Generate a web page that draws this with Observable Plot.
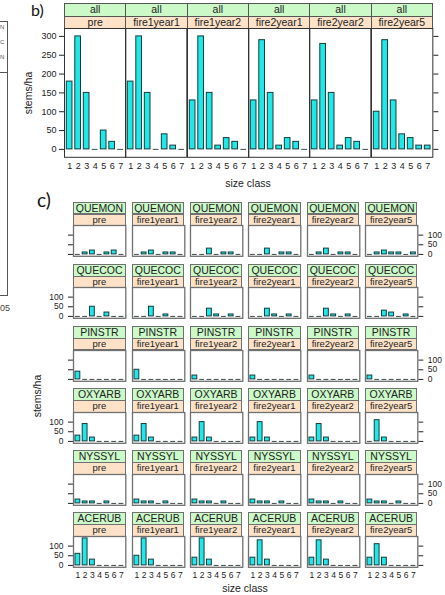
<!DOCTYPE html>
<html>
<head>
<meta charset="utf-8">
<script src="https://cdn.jsdelivr.net/npm/d3@7"></script>
<script src="https://cdn.jsdelivr.net/npm/@observablehq/plot@0.6"></script>
<style>
  html, body { margin: 0; padding: 0; background: #fff; }
  #fig { position: relative; width: 445px; height: 595px; overflow: hidden;
         font-family: "Liberation Sans", Arial, Helvetica, sans-serif; color: #222; }
  .strip { position: absolute; box-sizing: border-box; text-align: center;
           white-space: nowrap; overflow: hidden; }
  .lbl { position: absolute; white-space: nowrap; }
  .line { position: absolute; background: #555; }
</style>
</head>
<body>
<div id="fig"></div>
<script>
// Size classes on the x axis and the sampling periods (one panel column each)
const sizeClasses = [1, 2, 3, 4, 5, 6, 7];
const periods = ["pre", "fire1year1", "fire1year2", "fire2year1", "fire2year2", "fire2year5"];
const species = ["QUEMON", "QUECOC", "PINSTR", "OXYARB", "NYSSYL", "ACERUB"];

// y tick values
const ticksAll = [0, 50, 100, 150, 200, 250, 300];
const ticksSpecies = [0, 50, 100];

// b) stems/ha by size class, all species together (rows follow `periods`)
const allStems = [
  [180, 300, 150, 0, 50, 20, 0],
  [180, 300, 150, 0, 40, 10, 0],
  [130, 300, 150, 10, 30, 20, 0],
  [130, 290, 150, 10, 30, 20, 0],
  [130, 280, 150, 10, 30, 20, 0],
  [100, 290, 130, 40, 30, 10, 10]
];

// c) stems/ha by size class for each species (rows follow `periods`)
const quemon = [
  [0, 10, 20, 0, 10, 20, 0],
  [0, 10, 20, 0, 10, 10, 0],
  [0, 0, 30, 0, 10, 10, 0],
  [0, 0, 30, 0, 10, 10, 0],
  [0, 10, 30, 0, 10, 10, 0],
  [0, 10, 20, 10, 10, 0, 10]
];
const quecoc = [
  [0, 0, 50, 0, 20, 0, 0],
  [0, 0, 50, 0, 10, 0, 0],
  [0, 0, 40, 10, 0, 10, 0],
  [0, 0, 40, 10, 0, 10, 0],
  [0, 0, 40, 10, 0, 10, 0],
  [0, 0, 30, 20, 0, 10, 0]
];
const pinstr = [
  [40, 0, 0, 0, 0, 0, 0],
  [50, 0, 0, 0, 0, 0, 0],
  [20, 0, 0, 0, 0, 0, 0],
  [20, 0, 0, 0, 0, 0, 0],
  [20, 0, 0, 0, 0, 0, 0],
  [20, 0, 0, 0, 0, 0, 0]
];
const oxyarb = [
  [30, 90, 20, 0, 0, 0, 0],
  [30, 90, 20, 0, 0, 0, 0],
  [20, 100, 20, 0, 0, 0, 0],
  [20, 100, 20, 0, 0, 0, 0],
  [20, 90, 20, 0, 0, 0, 0],
  [0, 110, 20, 0, 0, 0, 0]
];
const nyssyl = [
  [20, 10, 10, 0, 10, 0, 0],
  [20, 10, 10, 0, 10, 0, 0],
  [20, 10, 10, 0, 10, 0, 0],
  [20, 10, 10, 0, 10, 0, 0],
  [20, 10, 10, 0, 10, 0, 0],
  [20, 10, 10, 0, 10, 0, 0]
];
const acerub = [
  [60, 140, 30, 0, 0, 0, 0],
  [50, 140, 30, 0, 0, 0, 0],
  [40, 140, 30, 0, 0, 0, 0],
  [40, 130, 30, 0, 0, 0, 0],
  [40, 130, 30, 0, 0, 0, 0],
  [40, 110, 40, 0, 0, 0, 0]
];
const speciesStems = [quemon, quecoc, pinstr, oxyarb, nyssyl, acerub];

// ---- styling ----
const FONT = '"Liberation Sans", Arial, Helvetica, sans-serif';
const BAR_FILL = "#1fe8e8";
const BAR_STROKE = "#173c3c";
const GREEN = "#cbf9c8";
const PEACH = "#fde2c8";

const fig = document.getElementById("fig");

function el(cls, css, text) {
  const d = document.createElement("div");
  d.className = cls;
  Object.assign(d.style, css);
  if (text != null) d.textContent = text;
  fig.appendChild(d);
  return d;
}

function strip(text, left, top, width, height, bg, border, fontSize) {
  el("strip", {
    left: left + "px", top: top + "px", width: width + "px", height: height + "px",
    background: bg, border: "1px solid " + border,
    fontSize: fontSize + "px", lineHeight: (height - 2) + "px"
  }, text);
}

function label(text, cx, cy, size, rotate) {
  el("lbl", {
    left: cx + "px", top: cy + "px", fontSize: size + "px", lineHeight: "1",
    transform: "translate(-50%, -50%)" + (rotate ? " rotate(-90deg)" : "")
  }, text);
}

// One lattice-style panel: bars for each size class, a zero dash for empty classes
function panel(o) {
  const rows = sizeClasses.map((c, i) => ({c, v: o.values[i]}));
  const mL = 34, mR = 34, mT = 2, mB = 24;
  const chart = Plot.plot({
    width: o.width + mL + mR,
    height: o.height + mT + mB,
    marginLeft: mL, marginRight: mR, marginTop: mT, marginBottom: mB,
    style: {background: "transparent", overflow: "visible", fontFamily: FONT,
            fontSize: o.tickFont + "px", color: "#222"},
    x: {type: "band", domain: sizeClasses, paddingInner: 1 / 3, paddingOuter: 0.27, round: false,
        axis: o.xLabels ? "bottom" : null, tickSize: 0, tickPadding: o.xPad, label: null},
    y: {domain: o.yDomain, ticks: o.yTicks, axis: o.yAxis, tickSize: 5, tickPadding: o.yPad,
        tickFormat: o.yLabels ? (d) => String(d) : () => "", label: null},
    marks: [
      Plot.barY(rows.filter((d) => d.v > 0), {x: "c", y: "v", fill: BAR_FILL, stroke: BAR_STROKE, strokeWidth: 1}),
      Plot.tickY(rows.filter((d) => d.v === 0), {x: "c", y: "v", stroke: "#3c4848", strokeWidth: 1}),
      Plot.frame({stroke: o.frame, strokeWidth: o.frameWidth})
    ]
  });
  Object.assign(chart.style, {position: "absolute", left: (o.left - mL) + "px", top: (o.top - mT) + "px"});
  fig.appendChild(chart);
}

// ---- neighbouring figure edge on the left ----
el("line", {left: "0px", top: "21px", width: "7px", height: "1px"});
el("line", {left: "7px", top: "21px", width: "1px", height: "51px"});
el("line", {left: "0px", top: "72px", width: "8px", height: "1px"});
el("line", {left: "7px", top: "72px", width: "1px", height: "223px"});
el("line", {left: "0px", top: "295px", width: "8px", height: "1px"});
el("lbl", {left: "0px", top: "24px", fontSize: "6px", color: "#555"}, "N");
el("lbl", {left: "0px", top: "39px", fontSize: "6px", color: "#555"}, "C");
el("lbl", {left: "0px", top: "54px", fontSize: "6px", color: "#555"}, "N");
el("lbl", {left: "0px", top: "303px", fontSize: "9px", color: "#444"}, "05");

// ---- b) all species ----
el("lbl", {left: "31px", top: "2px", fontSize: "16px", lineHeight: "1", fontFamily: "Lato, 'Open Sans', sans-serif", color: "#111"}, "b)");
const B = {left: 64, w: 61.33, stripTop: 3, stripH: 12.6, plotTop: 28.2, plotH: 128.8};
periods.forEach((p, j) => {
  const left = B.left + j * B.w;
  strip("all", left, B.stripTop, B.w + 1, B.stripH + 1, GREEN, "#555", 10.5);
  strip(p, left, B.stripTop + B.stripH, B.w + 1, B.stripH + 1, PEACH, "#555", 10.5);
  panel({
    values: allStems[j], left, top: B.plotTop, width: B.w, height: B.plotH,
    yDomain: [-21, 321], yTicks: ticksAll,
    yAxis: j === 0 ? "left" : j === periods.length - 1 ? "right" : null,
    yLabels: j === 0, yPad: 3, xLabels: true, xPad: 5, tickFont: 9,
    frame: "#333", frameWidth: 1
  });
});
label("stems/ha", 27.5, 93, 10.5, true);
label("size class", 248, 183, 10.5, false);

// ---- c) by species ----
el("lbl", {left: "37px", top: "188px", fontSize: "19px", fontFamily: "Lato, 'Open Sans', sans-serif", color: "#111"}, "c)");
const C = {left: 73.3, pitchX: 58.33, w: 52.3, top: 201.7, pitchY: 62.1, stripH: 11.8, plotH: 30.8};
species.forEach((s, i) => {
  const rowTop = C.top + i * C.pitchY;
  periods.forEach((p, j) => {
    const left = C.left + j * C.pitchX;
    strip(s, left, rowTop, C.w, C.stripH + 1, GREEN, "#707070", 10.5);
    strip(p, left, rowTop + C.stripH, C.w, C.stripH + 1, PEACH, "#707070", 9.5);
    const first = j === 0, last = j === periods.length - 1;
    panel({
      values: speciesStems[i][j], left, top: rowTop + 2 * C.stripH, width: C.w, height: C.plotH,
      yDomain: [-9.8, 149.8], yTicks: ticksSpecies,
      yAxis: first ? "left" : last ? "right" : null,
      yLabels: (i % 2 === 1 && first) || (i % 2 === 0 && last), yPad: 5,
      xLabels: i === species.length - 1, xPad: 5, tickFont: 8.5,
      frame: "#707070", frameWidth: 1.3
    });
  });
});
label("stems/ha", 37, 396, 10.5, true);
label("size class", 245, 588, 10.5, false);
</script>
</body>
</html>
